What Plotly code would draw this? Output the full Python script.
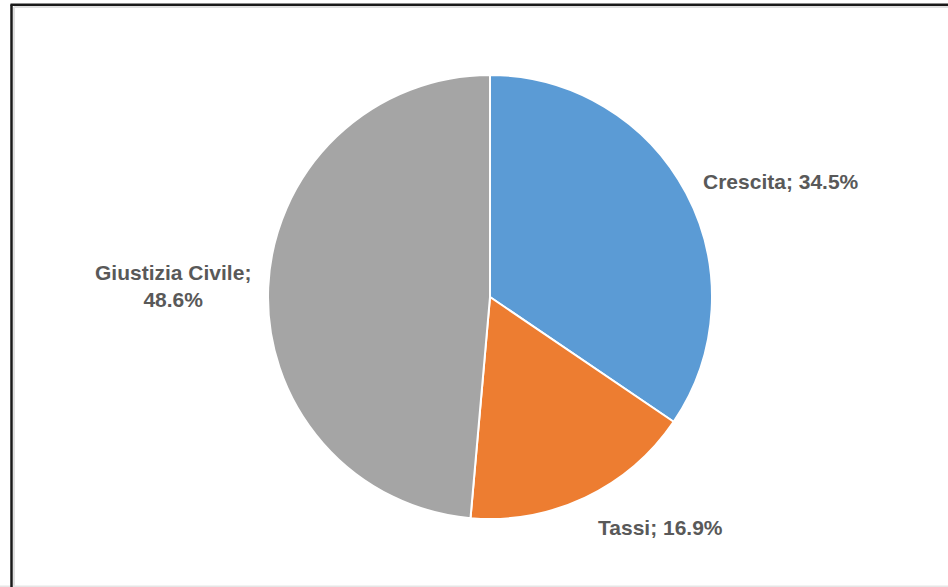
import plotly.graph_objects as go

categories = ["Crescita", "Tassi", "Giustizia Civile"]
values = [34.5, 16.9, 48.6]
colors = ["#5B9BD5", "#ED7D31", "#A5A5A5"]

W, H = 948, 587
cx, cy, r = 490, 297, 222

fig = go.Figure(go.Pie(
    labels=categories, values=values, sort=False, direction="clockwise",
    rotation=0, textinfo="none", hoverinfo="label+percent",
    marker=dict(colors=colors, line=dict(color="white", width=2)),
    domain=dict(x=[(cx - r) / W, (cx + r) / W], y=[1 - (cy + r) / H, 1 - (cy - r) / H]),
    showlegend=False,
))

label_pos = [(781, 181, "{c}; {v}%"), (660, 527, "{c}; {v}%"), (173, 286, "{c};<br>{v}%")]
font = dict(family="Liberation Sans Narrow, Liberation Sans, Arial", size=21, color="#595959")
for (c, v), (x, y, fmt) in zip(zip(categories, values), label_pos):
    fig.add_annotation(x=x / W, y=1 - y / H, xref="paper", yref="paper", showarrow=False,
                       text="<b>" + fmt.format(c=c, v=f"{v:.1f}") + "</b>", font=font,
                       align="center", xanchor="center", yanchor="middle")

# frame
fig.add_shape(type="line", xref="paper", yref="paper", x0=14 / W, x1=14 / W, y0=0, y1=1 - 7 / H,
              line=dict(color="#E0E0E0", width=2))
fig.add_shape(type="line", xref="paper", yref="paper", x0=14 / W, x1=1, y0=1 - 7 / H, y1=1 - 7 / H,
              line=dict(color="#E0E0E0", width=2))
fig.add_shape(type="line", xref="paper", yref="paper", x0=0, x1=1, y0=0.5 / H, y1=0.5 / H,
              line=dict(color="#E6E6E6", width=2))
fig.add_shape(type="line", xref="paper", yref="paper", x0=11.5 / W, x1=11.5 / W, y0=-0.1, y1=1 - 4.5 / H,
              line=dict(color="#1a1a1a", width=2.5))
fig.add_shape(type="line", xref="paper", yref="paper", x0=10.5 / W, x1=1.1, y0=1 - 4.8 / H, y1=1 - 4.8 / H,
              line=dict(color="#1a1a1a", width=2.5))

fig.update_layout(width=W, height=H, margin=dict(l=0, r=0, t=0, b=0),
                  paper_bgcolor="white", plot_bgcolor="white")
fig.write_html("out.html")
